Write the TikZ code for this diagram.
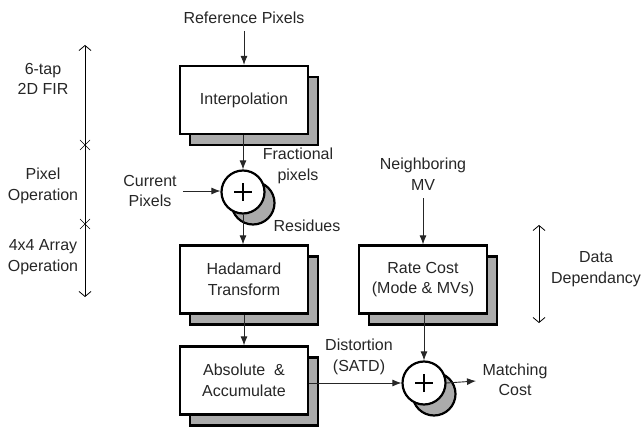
\documentclass[tikz,border=0pt]{standalone}
\usepackage{fontspec}
\setmainfont{Liberation Sans}
\usetikzlibrary{arrows.meta,shadows,calc}
\begin{document}
\begin{tikzpicture}[x=1pt,y=-1pt,
  every node/.style={font=\fontsize{16}{20.5}\selectfont, text=black!85},
  stage/.style={draw=black, line width=2.2pt, fill=white, minimum width=128pt, minimum height=68pt,
    align=center, inner sep=0pt,
    copy shadow={shadow xshift=10pt, shadow yshift=-11pt, fill=black!33, draw=black, line width=2.2pt}},
  adder/.style={circle, draw=black, line width=2.2pt, fill=white, minimum size=43pt, inner sep=0pt,
    copy shadow={shadow xshift=10pt, shadow yshift=-11pt, fill=black!33, draw=black, line width=2.2pt},
    path picture={\draw[line width=2.2pt] ([xshift=-9pt]path picture bounding box.center) -- ([xshift=9pt]path picture bounding box.center);
                  \draw[line width=2.2pt] ([yshift=-9pt]path picture bounding box.center) -- ([yshift=9pt]path picture bounding box.center);}},
  flow/.style={draw=black!85, line width=0.9pt, -{Latex[length=9pt,width=7pt]}},
  span/.style={draw=black, line width=0.8pt, {Straight Barb[length=5pt,width=12pt]}-{Straight Barb[length=5pt,width=12pt]}},
  tick/.style={draw=black, line width=0.7pt},
  lbl/.style={align=center, inner sep=0pt}]
\useasboundingbox (0,0) rectangle (644,427);

% processing stages
\node[stage] (interp) at (244,100) {Interpolation};
\node[adder] (sub) at (243,192) {};
\node[stage] (hada) at (244,279.5) {Hadamard\\Transform};
\node[stage] (rate) at (423,279.5) {Rate Cost\\(Mode \& MVs)};
\node[stage] (abs) at (244,380.5) {Absolute \ \&\\Accumulate};
\node[adder] (sum) at (424,383) {};

% inputs and outputs
\node[lbl] (refpix) at (244,18) {Reference Pixels};
\node[lbl] (curpix) at (150,191) {Current\\Pixels};
\node[lbl] (frac) at (298,166) {Fractional\\pixels};
\node[lbl] (resid) at (307,226) {Residues};
\node[lbl] (nmv) at (423,174) {Neighboring\\MV};
\node[lbl] (dist) at (359,357) {Distortion\\(SATD)};
\node[lbl] (mcost) at (515,380) {Matching\\Cost};
\coordinate (out) at (476,381);

% data flow
\draw[flow] (interp.north) ++(0,-34) -- (interp.north);
\draw[flow] (interp.south -| sub.north) -- (sub.north);
\draw[flow] (curpix.east) ++(6,0) coordinate (cp) -- (cp -| sub.west);
\draw[flow] (sub.south) -- (sub.south |- hada.north);
\draw[flow] (hada.south) -- (abs.north);
\draw[flow] (rate.north) ++(0,-46) coordinate (mvfoot) -- (rate.north);
\draw[flow] (rate.south -| sum.north) -- (sum.north);
\draw[flow] (abs.east |- sum.west) -- (sum.west);
\draw[flow] (sum.east) -- (out);

% operation ranges on the left
\coordinate (axtop) at (85,45);
\coordinate (axbot) at (85,297);
\draw[span] (axtop) -- (axbot);
\coordinate (x1) at (85,145);
\coordinate (x2) at (85,224);
\draw[tick] ($(x1)+(-5,-5)$) -- ($(x1)+(5,5)$) ($(x1)+(-5,5)$) -- ($(x1)+(5,-5)$);
\draw[tick] ($(x2)+(-5,-5)$) -- ($(x2)+(5,5)$) ($(x2)+(-5,5)$) -- ($(x2)+(5,-5)$);
\node[lbl] (fir) at (43,79) {6-tap\\2D FIR};
\node[lbl] (pixop) at (43,186) {Pixel\\Operation};
\node[lbl] (arrop) at (43,257) {4x4 Array\\Operation};

% data dependency range on the right
\coordinate (ddtop) at (539,225);
\coordinate (ddbot) at (539,323);
\draw[span] (ddtop) -- (ddbot);
\node[lbl] (dd) at (596,269) {Data\\Dependancy};
\end{tikzpicture}
\end{document}
